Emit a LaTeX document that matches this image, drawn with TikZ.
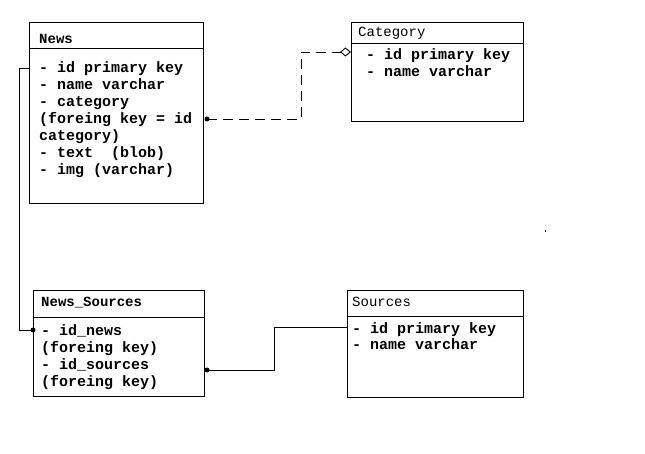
\documentclass[tikz,border=0pt]{standalone}
\usepackage{fontspec}
\setmonofont{Liberation Mono}
\usetikzlibrary{arrows.meta}
% a top-aligned column of lines whose baseline is that of its first line
\newcommand{\fieldlist}[1]{\begin{tabular}[t]{@{}l@{}}#1\end{tabular}}
\begin{document}
\begin{tikzpicture}[x=1pt,y=-1pt,
  entity/.style={draw,line width=1pt,anchor=north west,inner sep=0pt},
  title/.style={anchor=base west,inner sep=0pt,font=\ttfamily\bfseries\fontsize{14}{17}\selectfont},
  ltitle/.style={anchor=base west,inner sep=0pt,font=\ttfamily\fontsize{14}{17}\selectfont},
  fields/.style={anchor=base west,inner sep=0pt,font=\ttfamily\bfseries\fontsize{15}{17}\selectfont},
  link/.style={line width=0.9pt},
  fk/.style={circle,fill=black,inner sep=0pt,minimum size=5pt}]
\useasboundingbox (0,0) rectangle (645,454);

% entity boxes
\node[entity,minimum width=174pt,minimum height=181pt] (news) at (29,22) {};
\node[entity,minimum width=172pt,minimum height=99pt] (cat) at (351,22) {};
\node[entity,minimum width=171pt,minimum height=106pt] (ns) at (33,290) {};
\node[entity,minimum width=176pt,minimum height=107pt] (src) at (347,290) {};

% header separators
\draw[line width=1pt] (29,49) -- (203,49);
\draw[line width=1pt] (351,44) -- (523,44);
\draw[line width=1pt] (33,317) -- (204,317);
\draw[line width=1pt] (347,316) -- (523,316);

% titles
\node[title] (newsT) at (39,43.5) {News};
\node[ltitle] (catT) at (358,37) {Category};
\node[title] (nsT) at (41,306) {News\_Sources};
\node[ltitle] (srcT) at (352,306.5) {Sources};

% field lists
\node[fields] (newsF) at (39,73) {\fieldlist{- id primary key\\- name varchar\\- category\\(foreing key = id\\category)\\- text~~(blob)\\- img (varchar)}};
\node[fields] (catF) at (366,60) {\fieldlist{- id primary key\\- name varchar}};
\node[fields] (nsF) at (41,335) {\fieldlist{- id\_news\\(foreing key)\\- id\_sources\\(foreing key)}};
\node[fields] (srcF) at (352,333) {\fieldlist{- id primary key\\- name varchar}};

% connection points
\node[fk] (p1) at (207,119) {};
\coordinate (c1) at (351,52);
\coordinate (n1) at (29,68);
\node[fk] (p2) at (33,330) {};
\node[fk] (p3) at (207,370) {};
\coordinate (s1) at (347,327);

% relations
\draw[link,dash pattern=on 10pt off 6pt,-{Diamond[open,length=11pt,width=9pt]}]
  (p1.center) -- (301,119) -- (301,52) -- (c1);
\draw[link] (n1) -- (19,68) -- (19,330) -- (p2.center);
\draw[link] (p3.center) -- (274,370) -- (274,327) -- (s1);

% stray mark
\fill (544.5,230.5) rectangle (546,232);
\end{tikzpicture}
\end{document}
